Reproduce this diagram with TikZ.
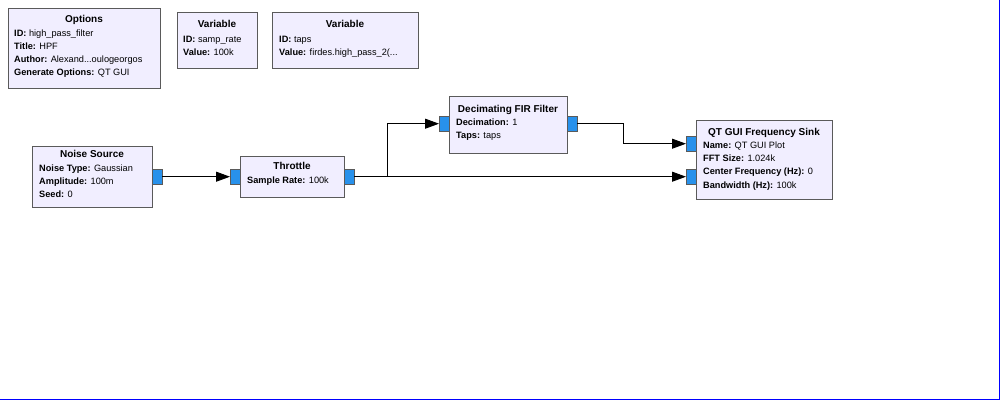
\documentclass[tikz,border=0pt]{standalone}
\usepackage{fontspec}
\setmainfont{Liberation Sans}
\usetikzlibrary{arrows.meta,positioning}

\definecolor{blockfill}{RGB}{241,238,255}
\definecolor{blockline}{RGB}{90,90,90}
\definecolor{portfill}{RGB}{40,145,235}

\tikzset{
    block/.style={draw=blockline, fill=blockfill, anchor=north west, inner sep=0pt},
    port/.style={draw=blockline, fill=portfill, anchor=north west, inner sep=0pt,
        minimum width=10pt, minimum height=15pt},
    title/.style={anchor=mid, font=\bfseries, inner sep=0pt},
    param/.style={anchor=mid west, inner sep=0pt},
    wire/.style={line width=0.9pt},
    flow/.style={wire, -{Triangle[length=14pt,width=10pt]}}
}

\begin{document}
\begin{tikzpicture}[x=1pt, y=-1pt, font=\fontsize{9.2}{11}\selectfont]
    \useasboundingbox (0,0) rectangle (1000,400);
    \fill[white] (0,0) rectangle (1000,400);
    \draw[blue, line width=1.2pt] (999.4,0) -- (999.4,399.4) -- (0,399.4);

    %% top row: options and variables
    \node[block, minimum width=152pt, minimum height=80pt] (opt) at (8,8) {};
    \node[title] at (84,20) {Options};
    \node[param] (opt1) at (14,34) {\textbf{ID:} high\_pass\_filter};
    \node[param] (opt2) at (14,47) {\textbf{Title:} HPF};
    \node[param] (opt3) at (14,60) {\textbf{Author:} Alexand...oulogeorgos};
    \node[param] (opt4) at (14,73) {\textbf{Generate Options:} QT GUI};

    \node[block, minimum width=80pt, minimum height=56pt] (var1) at (177,12) {};
    \node[title] at (217,25) {Variable};
    \node[param] at (183,40) {\textbf{ID:} samp\_rate};
    \node[param] at (183,53) {\textbf{Value:} 100k};

    \node[block, minimum width=146pt, minimum height=56pt] (var2) at (272,12) {};
    \node[title] at (345,25) {Variable};
    \node[param] at (279,40) {\textbf{ID:} taps};
    \node[param] at (279,53) {\textbf{Value:} firdes.high\_pass\_2(...};

    %% flow graph blocks
    \node[block, minimum width=120pt, minimum height=61pt] (noise) at (32,146) {};
    \node[title] at (92,155) {Noise Source};
    \node[param] at (39,169) {\textbf{Noise Type:} Gaussian};
    \node[param] at (39,182) {\textbf{Amplitude:} 100m};
    \node[param] at (39,195) {\textbf{Seed:} 0};
    \node[port] (noise_out) at (152,169) {};

    \node[block, minimum width=104pt, minimum height=41pt] (thr) at (240,156) {};
    \node[title] at (292,167) {Throttle};
    \node[param] at (247,181) {\textbf{Sample Rate:} 100k};
    \node[port] (thr_in) at (230,169) {};
    \node[port] (thr_out) at (344,169) {};

    \node[block, minimum width=118pt, minimum height=57pt] (fir) at (449,96) {};
    \node[title] at (508,110) {Decimating FIR Filter};
    \node[param] at (456,123) {\textbf{Decimation:} 1};
    \node[param] at (456,136) {\textbf{Taps:} taps};
    \node[port] (fir_in) at (439,116) {};
    \node[port] (fir_out) at (567,116) {};

    \node[block, minimum width=136pt, minimum height=79pt] (sink) at (696,120) {};
    \node[title] at (764,133) {QT GUI Frequency Sink};
    \node[param] at (703,146) {\textbf{Name:} QT GUI Plot};
    \node[param] at (703,159) {\textbf{FFT Size:} 1.024k};
    \node[param] at (703,172) {\textbf{Center Frequency (Hz):} 0};
    \node[param] at (703,186) {\textbf{Bandwidth (Hz):} 100k};
    \node[port] (sink_in0) at (686,136) {};
    \node[port] (sink_in1) at (686,169) {};

    %% connections
    \draw[flow] (noise_out.east) -- (thr_in.west);
    \draw[flow] (thr_out.east) -- ++(33,0) |- (fir_in.west);
    \draw[flow] (thr_out.east) -- (sink_in1.west);
    \draw[flow] (fir_out.east) -- ++(46,0) |- (sink_in0.west);
\end{tikzpicture}
\end{document}
